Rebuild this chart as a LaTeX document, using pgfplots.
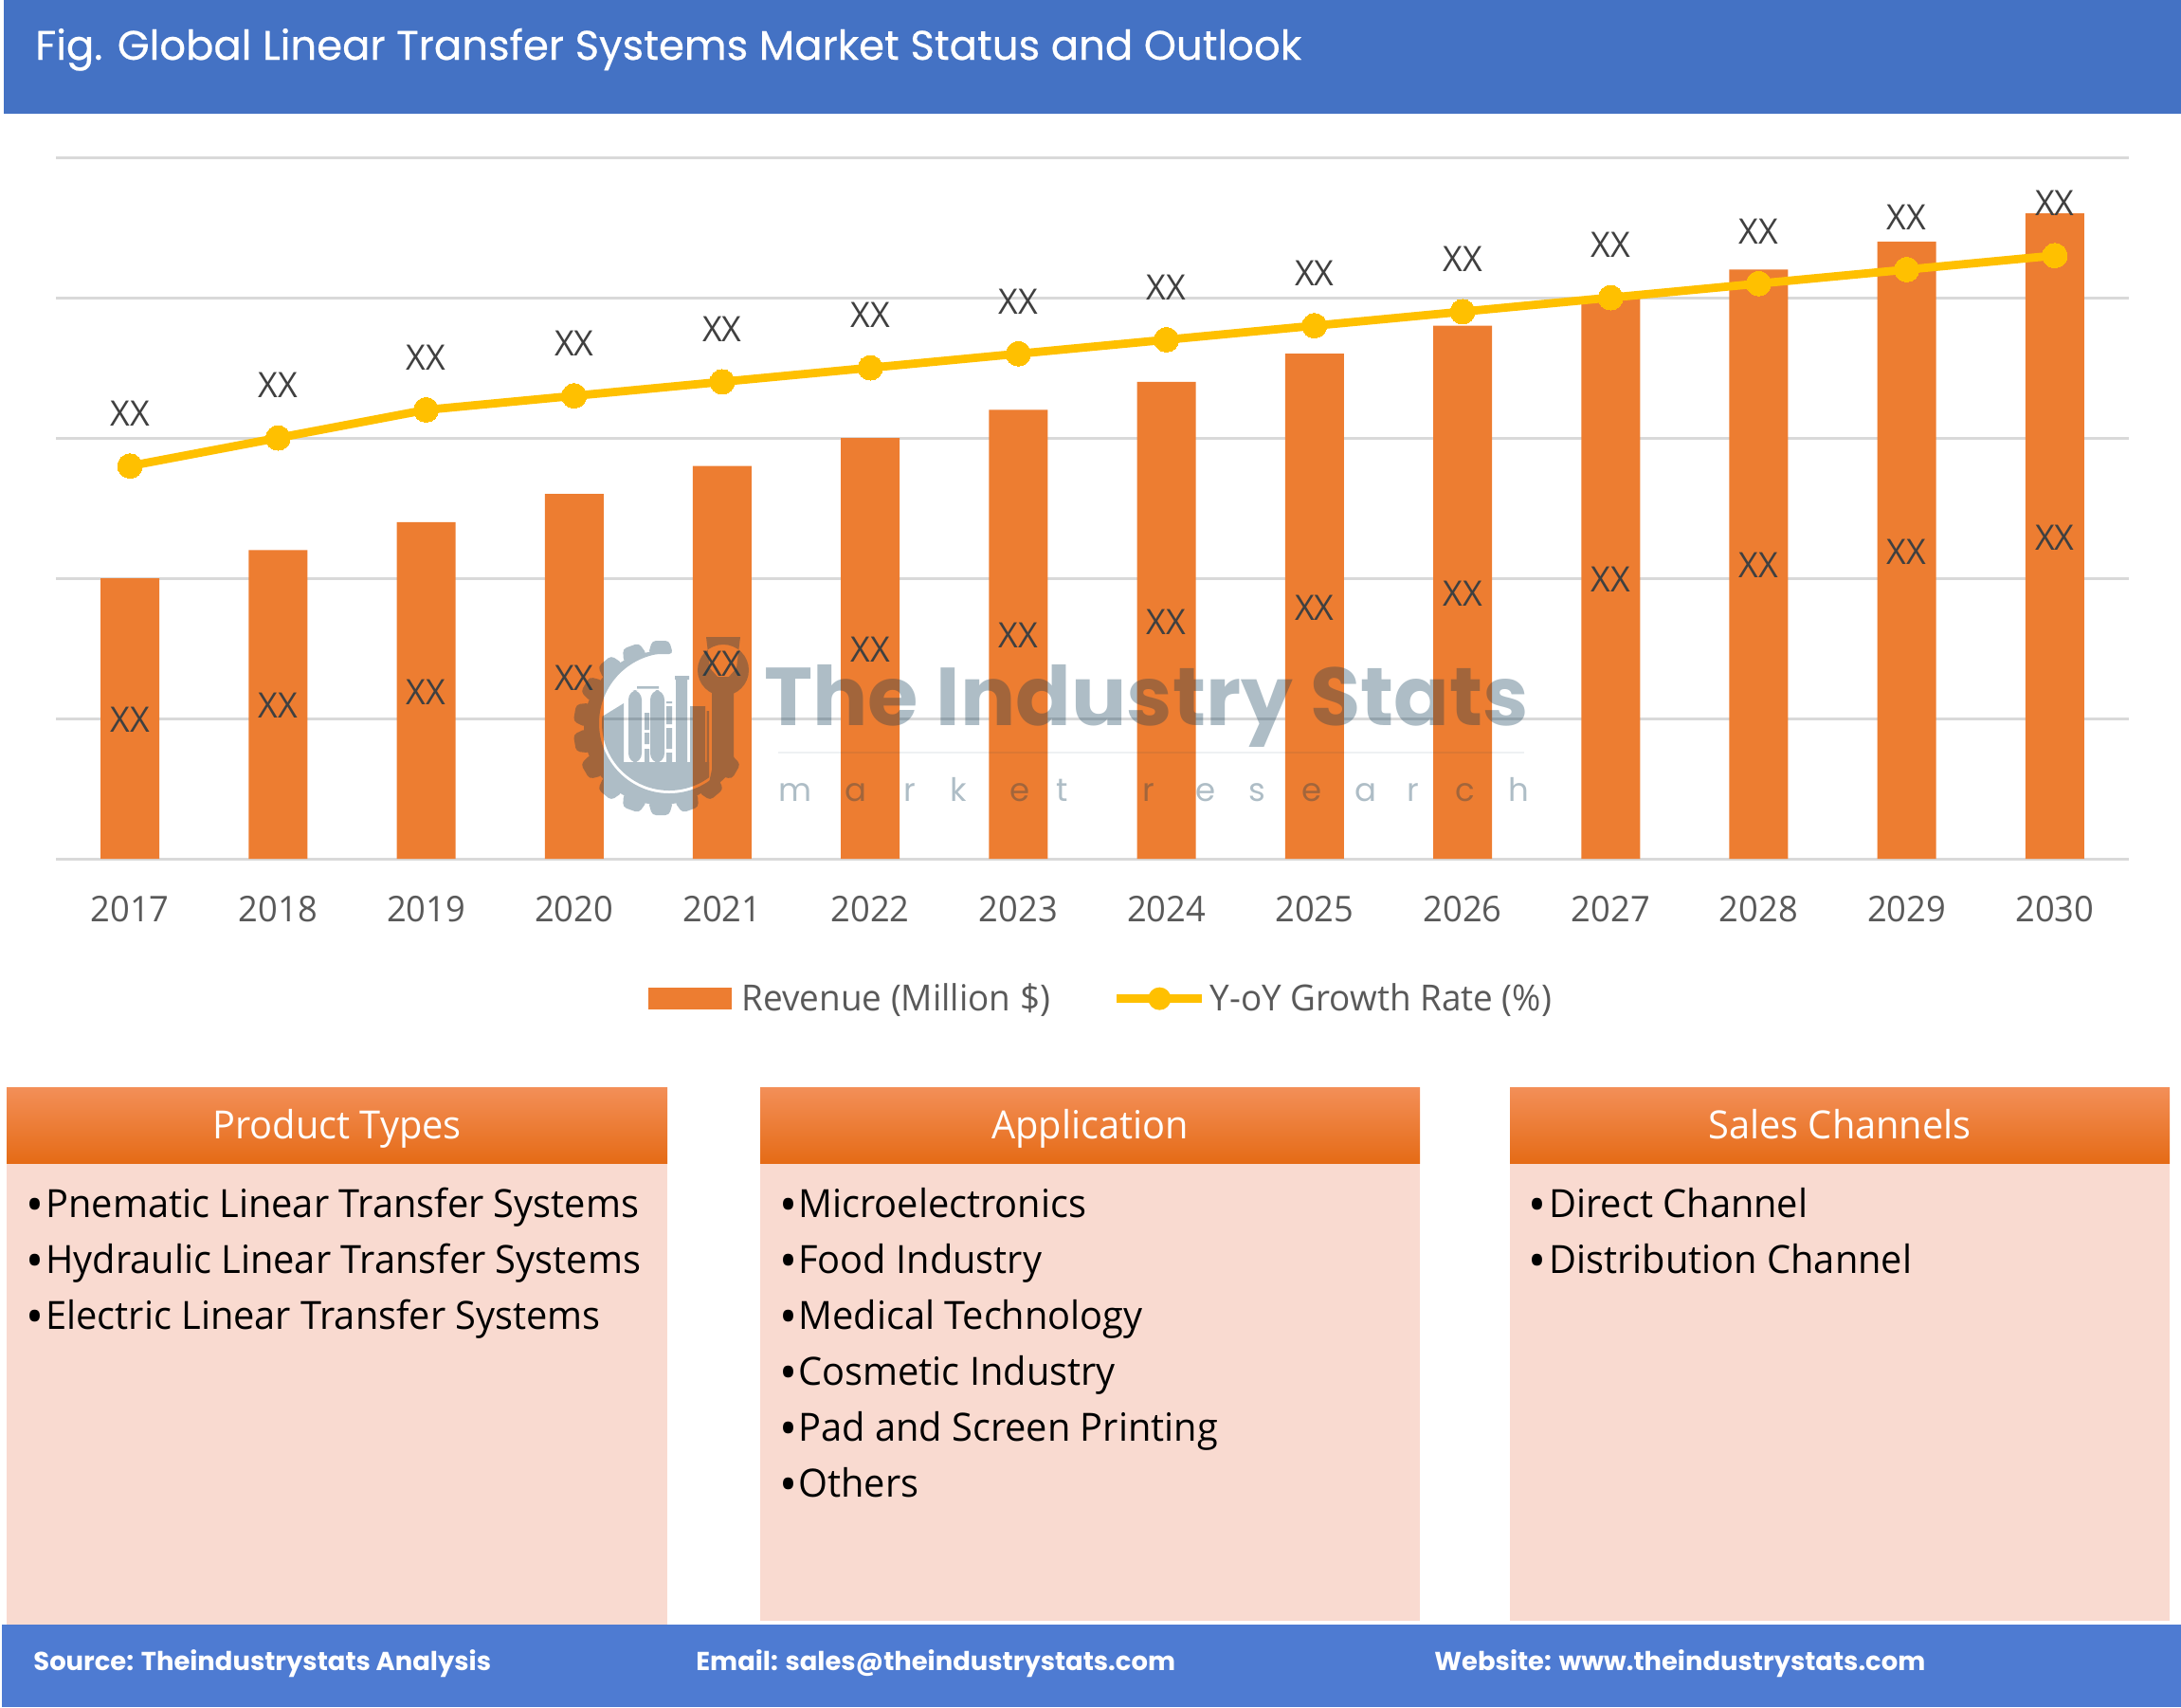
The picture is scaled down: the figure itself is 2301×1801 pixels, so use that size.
\documentclass[border=0pt]{standalone}
\usepackage{fontspec}
\setmainfont[FakeStretch=0.97]{Open Sans}
\newfontfamily\pop{Poppins}
\newfontfamily\popm[FakeBold=0.5]{Poppins}
\usepackage{pgfplots}
\usepackage{pgfplotstable}
\pgfplotsset{compat=1.18}

\definecolor{headblue}{HTML}{4472C4}
\definecolor{footblue}{HTML}{4E7BD2}
\definecolor{barorange}{HTML}{ED7D31}
\definecolor{lineyellow}{HTML}{FFC000}
\definecolor{gridgray}{HTML}{D9D9D9}
\definecolor{ticktxt}{HTML}{595959}
\definecolor{valtxt}{HTML}{404040}
\definecolor{panelbody}{HTML}{F9DAD0}
\definecolor{wmark}{HTML}{0A3752}

\pgfplotstableread{
year rev  growth
2017 2.0  2.8
2018 2.2  3.0
2019 2.4  3.2
2020 2.6  3.3
2021 2.8  3.4
2022 3.0  3.5
2023 3.2  3.6
2024 3.4  3.7
2025 3.6  3.8
2026 3.8  3.9
2027 4.0  4.0
2028 4.2  4.1
2029 4.4  4.2
2030 4.6  4.3
}\markettable

% one panel: left, right, bottom, title
\newcommand{\panel}[4]{
  \fill[panelbody] (#1,1227) rectangle (#2,#3);
  \shade[top color={rgb,255:red,243;green,143;blue,88},
         middle color={rgb,255:red,246;green,125;blue,43},
         bottom color={rgb,255:red,229;green,107;blue,22}] (#1,1147) rectangle (#2,1227);
  \node[anchor=base,inner sep=0pt,text=white,font=\fontsize{20.5}{22}\selectfont] at ({(#1+#2)/2},1201) {#4};
}
% one list item: bullet x, text x, baseline, text
\newcommand{\pitem}[4]{
  \node[anchor=base west,inner sep=0pt,font=\fontsize{26}{26}\selectfont] at (#1,#3+6) {•};
  \node[anchor=base west,inner sep=0pt,font=\fontsize{20.5}{22}\selectfont] at (#2,#3+1.5) {#4};
}

\begin{document}
\begin{tikzpicture}[x=0.5pt,y=-0.5pt]
\path[use as bounding box] (0,0) rectangle (2301,1801);

% header band
\fill[headblue] (4,0) rectangle (2301,120);
\node[anchor=base west,inner sep=0pt,text=white,font=\popm\fontsize{21.7}{23}\selectfont] at (37,63)
  {Fig. Global Linear Transfer Systems Market Status and Outlook};

\begin{axis}[
    at={(29.5pt,-453pt)},
    anchor=south west,
    scale only axis,
    width=1093.5pt,
    height=370pt,
    xmin=2016.5, xmax=2030.5,
    ymin=0, ymax=5,
    clip=false,
    axis line style={draw=none},
    ytick={0,1,2,3,4,5},
    yticklabels={},
    ymajorgrids,
    grid style={line width=1.5pt,draw=gridgray},
    xtick={2017,2018,...,2030},
    major tick length=0pt,
    xticklabel style={
        anchor=center, yshift=-26.5pt, text=ticktxt,
        font=\fontsize{18.7}{20}\selectfont,
        /pgf/number format/1000 sep={},
        /pgf/number format/assume math mode=true},
    legend style={
        at={(0.5045,-0.1995)}, anchor=center,
        draw=none, fill=none,
        legend columns=2,
        font=\fontsize{19}{20}\selectfont,
        text=ticktxt,
        /tikz/every even column/.append style={column sep=31pt},
        legend cell align=left},
]
% revenue bars
\addplot[
    ybar, bar width=31pt, fill=barorange, draw=none,
    legend image code/.code={
        \path[draw=none,fill=none] (-3.5pt,0pt) -- (44pt,0pt);
        \fill[barorange,draw=none] (-3.5pt,-5.75pt) rectangle (40.5pt,5.75pt);},
    visualization depends on={\thisrow{rev}*37 \as \drop},
    nodes near coords={XX},
    every node near coord/.append style={
        anchor=center, yshift=-\drop pt-0.7pt, text=valtxt, inner sep=0pt,
        font=\fontsize{18.5}{20}\selectfont},
] table[x=year,y=rev] {\markettable};
\addlegendentry{Revenue (Million \$)}

% growth line
\addplot[
    line width=4.4pt, color=lineyellow, mark=*, mark size=6.5pt,
    mark options={fill=lineyellow,draw=lineyellow,line width=0pt},
    legend image code/.code={
        \draw[line width=4.4pt,lineyellow,fill=none] (1.5pt,0pt) -- (46.5pt,0pt);
        \fill[lineyellow,draw=none] (24pt,0pt) circle (6pt);
        \path[use as bounding box,draw=none,fill=none] (0pt,-5pt) rectangle (43.5pt,5pt);},
    nodes near coords={XX},
    every node near coord/.append style={
        anchor=center, yshift=27.7pt, text=valtxt, inner sep=0pt,
        font=\fontsize{18.5}{20}\selectfont},
] table[x=year,y=growth] {\markettable};
\addlegendentry{Y-oY Growth Rate (\%)}
\end{axis}

% watermark over the chart
\begin{scope}[transparency group, opacity=0.33]
  % gear ring, open at the upper right, hole set off the gear's centre
  \begin{scope}
    \clip (706,763) -- (703,564) -- (500,564) -- (500,970) -- (870,970) -- (870,878) -- cycle;
    \fill[wmark,even odd rule] (697,768) circle (81) (706,763) circle (74);
  \end{scope}
  \foreach \a in {90,110,...,330}
    \fill[wmark,rounded corners=2,rotate around={\a:(697,768)}] (775,755) -- (789,759) -- (789,777) -- (775,781) -- cycle;
  \fill[wmark] (774,798) -- (778,808) -- (757,828) -- (748,826) -- (751,812) -- cycle;
  % bowl and plant
  \begin{scope}
    \clip (706,763) circle (71);
    \fill[wmark] (620,804) rectangle (748,840);
    \fill[wmark] (632,758) -- (658,742) -- (658,804) -- (632,804) -- cycle;
  \end{scope}
  \fill[wmark,rounded corners=5] (663,805) -- (663,728) -- (677,728) -- (677,805) -- cycle;
  \fill[wmark,rounded corners=5] (686,805) -- (686,728) -- (701,728) -- (701,805) -- cycle;
  \fill[wmark] (672,724) rectangle (695,726.5);
  \fill[wmark] (680,752) rectangle (685,770);
  \fill[wmark] (680,773) rectangle (685,785);
  \fill[wmark] (680,790) rectangle (685,805);
  \fill[wmark] (703,740) rectangle (709,742);
  \fill[wmark] (703,745) rectangle (709,764);
  \fill[wmark] (703,768) rectangle (709,790);
  \fill[wmark] (703,794) rectangle (709,805);
  \fill[wmark] (713,717) rectangle (725,805);
  \fill[wmark] (712,713) rectangle (727,717);
  \fill[wmark] (728,745) rectangle (744,805);
  \fill[wmark] (745.5,750) rectangle (748,820);
  % wrench
  \fill[wmark,even odd rule] (763,707) circle (27)
    (745,672) -- (749,705) -- (757,714) -- (769,714) -- (777,705) -- (781,672) -- cycle;
  \fill[wmark] (751,730) rectangle (774,812);
\end{scope}
\node[anchor=base west,inner sep=0pt,opacity=0.33,text=wmark,font=\pop\bfseries\fontsize{43.3}{46}\selectfont] at (806,765) {The Industry Stats};
\draw[wmark,opacity=0.07,line width=1pt] (821,794) -- (1608,794);
\foreach \xp/\ch in {821/m,891/a,953/r,1002/k,1065/e,1114/t,1205/r,1261/e,1317/s,1373/e,1429/a,1484/r,1535/c,1591/h}
  \node[anchor=base west,inner sep=0pt,opacity=0.33,text=wmark,font=\pop\fontsize{17}{18}\selectfont] at (\xp,845) {\ch};

% three panels
\panel{7}{704}{1714}{Product Types}
\panel{802}{1498}{1710}{Application}
\panel{1593}{2289}{1710}{Sales Channels}

\pitem{27}{48}{1283}{Pnematic Linear Transfer Systems}
\pitem{27}{48}{1342}{Hydraulic Linear Transfer Systems}
\pitem{27}{48}{1401}{Electric Linear Transfer Systems}

\pitem{822}{842}{1283}{Microelectronics}
\pitem{822}{842}{1342}{Food Industry}
\pitem{822}{842}{1401}{Medical Technology}
\pitem{822}{842}{1460}{Cosmetic Industry}
\pitem{822}{842}{1519}{Pad and Screen Printing}
\pitem{822}{842}{1578}{Others}

\pitem{1612}{1634}{1283}{Direct Channel}
\pitem{1612}{1634}{1342}{Distribution Channel}

% footer band
\fill[footblue] (2,1714) rectangle (2301,1801);
\foreach \xp/\txt in {35/{Source: Theindustrystats Analysis},734/{Email: sales@theindustrystats.com},1513/{Website: www.theindustrystats.com}}
  \node[anchor=base west,inner sep=0pt,text=white,font=\pop\bfseries\fontsize{13.7}{16}\selectfont] at (\xp,1762.5) {\txt};
\end{tikzpicture}
\end{document}
